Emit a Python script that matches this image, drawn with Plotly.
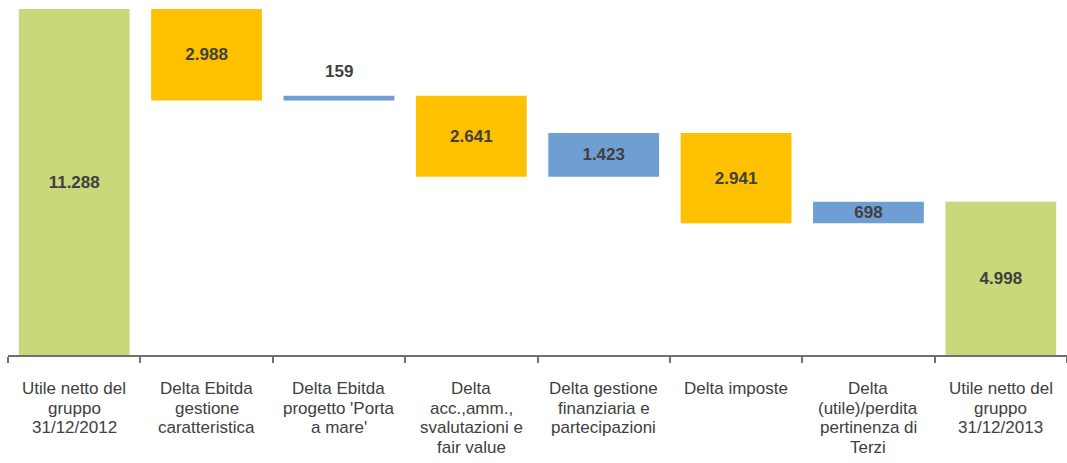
import plotly.graph_objects as go

categories = [
    "Utile netto del<br>gruppo<br>31/12/2012",
    "Delta Ebitda<br>gestione<br>caratteristica",
    "Delta Ebitda<br>progetto 'Porta<br>a mare'",
    "Delta<br>acc.,amm.,<br>svalutazioni e<br>fair value",
    "Delta gestione<br>finanziaria e<br>partecipazioni",
    "Delta imposte",
    "Delta<br>(utile)/perdita<br>pertinenza di<br>Terzi",
    "Utile netto del<br>gruppo<br>31/12/2013",
]
measures = ["absolute", "relative", "relative", "relative", "relative", "relative", "relative", "total"]
values = [11288, -2988, 159, -2641, 1423, -2941, 698, 4998]
label_above = [False, False, True, False, False, False, False, False]

labels = [f"{abs(v):,}".replace(",", ".") for v in values]
y_vals = [v if m != "total" else 0 for v, m in zip(values, measures)]

GREEN = "#C9D87A"
YELLOW = "#FFC000"
BLUE = "#6F9FD2"
TXT = "#404040"
AX = "#707070"
FONT = "Liberation Sans, Arial, sans-serif"

fig = go.Figure(go.Waterfall(
    x=categories,
    y=y_vals,
    measure=measures,
    text=[("" if a else l) for l, a in zip(labels, label_above)],
    textposition="inside",
    insidetextanchor="middle",
    textfont=dict(family=FONT, size=17, color=TXT, weight="bold"),
    constraintext="none",
    cliponaxis=False,
    connector=dict(visible=False),
    increasing=dict(marker=dict(color=BLUE)),
    decreasing=dict(marker=dict(color=YELLOW)),
    totals=dict(marker=dict(color=GREEN)),
    hoverinfo="skip",
))

# labels placed above thin bars
running = 0
for cat, v, m, lab, above in zip(categories, values, measures, labels, label_above):
    top = v if m in ("absolute", "total") else max(running, running + v)
    running = v if m in ("absolute", "total") else running + v
    if above:
        fig.add_annotation(x=cat, y=top, xref="x", yref="y", text=lab,
                           showarrow=False, yanchor="bottom", yshift=13,
                           font=dict(family=FONT, size=17, color=TXT, weight="bold"))

# category labels, one line per annotation for tight line spacing
LINE = 19.7
for cat in categories:
    for i, line in enumerate(cat.split("<br>")):
        fig.add_annotation(x=cat, y=0, xref="x", yref="paper", text=line,
                           showarrow=False, yanchor="middle",
                           yshift=-(33.5 + LINE * i),
                           font=dict(family=FONT, size=17, color=TXT))

fig.update_layout(
    width=1067, height=463,
    margin=dict(l=8, r=0, t=9, b=108, autoexpand=False),
    paper_bgcolor="white", plot_bgcolor="white",
    showlegend=False,
    waterfallgap=0.163,
    font=dict(family=FONT, size=17, color=TXT),
)
fig.update_xaxes(
    type="category",
    showline=True, linecolor=AX, linewidth=2,
    ticks="outside", ticklen=6, tickcolor=AX, tickwidth=1.5,
    tickson="boundaries",
    showticklabels=False,
    showgrid=False,
    automargin=False,
)
fig.update_yaxes(range=[0, 11288], visible=False, showgrid=False, zeroline=False)

fig.write_html("out.html", config={"displayModeBar": False},
               post_script="document.body.style.margin='0';")
